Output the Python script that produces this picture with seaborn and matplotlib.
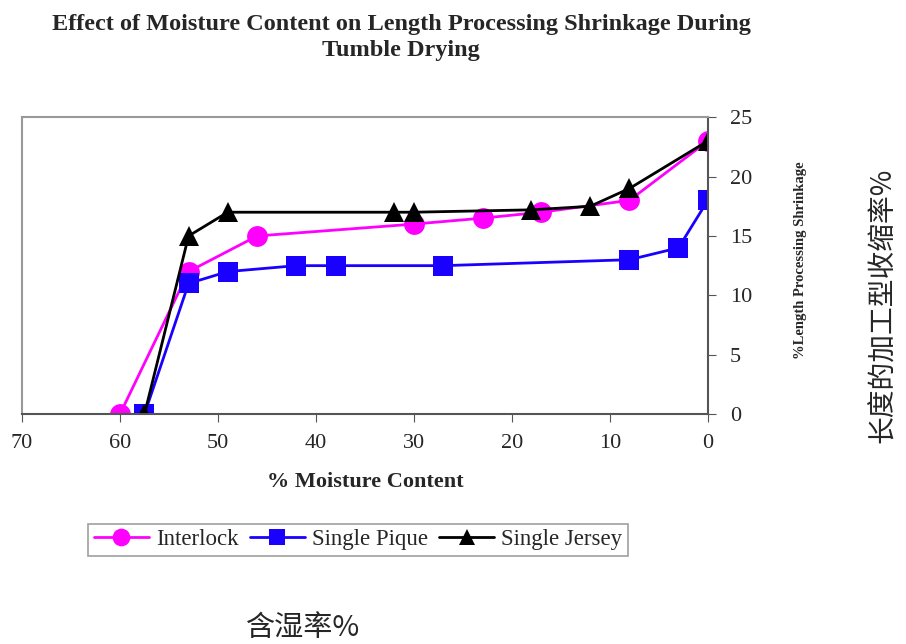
import numpy as np
import pandas as pd
import matplotlib
matplotlib.use("Agg")
import matplotlib.pyplot as plt
import seaborn as sns

# values
interlock_x = [60, 53, 46, 30, 23, 17, 8, 0]
interlock_y = [0, 12, 15, 16, 16.5, 17, 18, 23]
pique_x = [57.5, 53, 49, 42, 38, 27, 8, 3, 0]
pique_y = [0, 11, 12, 12.5, 12.5, 12.5, 13, 14, 18]
jersey_x = [57.5, 53, 49, 32, 30, 18, 12, 8, 0]
jersey_y = [0, 15, 17, 17, 17, 17.2, 17.5, 19, 23]

series = ["Interlock", "Single Pique", "Single Jersey"]
colors = {"Interlock": "#ff00ff", "Single Pique": "#1a00ff", "Single Jersey": "black"}
markers = {"Interlock": "o", "Single Pique": "s", "Single Jersey": "^"}
msizes = {"Interlock": 15, "Single Pique": 14, "Single Jersey": 14}

df = pd.concat([
    pd.DataFrame({"moisture": interlock_x, "shrink": interlock_y, "fabric": "Interlock"}),
    pd.DataFrame({"moisture": pique_x, "shrink": pique_y, "fabric": "Single Pique"}),
    pd.DataFrame({"moisture": jersey_x, "shrink": jersey_y, "fabric": "Single Jersey"}),
])

sns.set_style("white")
plt.rcParams["font.family"] = ["Liberation Serif", "DejaVu Serif"]

fig = plt.figure(figsize=(9.06, 6.44), dpi=100)
ax = fig.add_axes([0.0243, 0.357, 0.757, 0.461])

for name in series:
    sub = df[df["fabric"] == name]
    sns.lineplot(data=sub, x="moisture", y="shrink", ax=ax, color=colors[name],
                 marker=markers[name], markersize=msizes[name], markeredgewidth=0,
                 linewidth=2, label=name, sort=False, estimator=None)

ax.set_xlim(70, 0)
ax.set_ylim(0, 25)
ax.set_xticks(range(70, -1, -10))
ax.set_yticks(range(0, 26, 5))
ax.yaxis.tick_right()
ax.tick_params(axis="both", labelsize=16, direction="out", length=6, color="#555555",
               bottom=True, right=True, left=False)
ax.tick_params(axis="x", pad=8)
ax.tick_params(axis="y", pad=10)
for side in ["top", "left"]:
    ax.spines[side].set_color("#999999")
    ax.spines[side].set_linewidth(1.5)
for side in ["bottom", "right"]:
    ax.spines[side].set_color("#555555")
    ax.spines[side].set_linewidth(1.5)

ax.set_xlabel("% Moisture Content", fontsize=16, fontweight="bold", labelpad=14)
ax.set_ylabel("")
ax.text(1.135, 0.52, "%Length Processing Shrinkage", transform=ax.transAxes, rotation=90,
        fontsize=10.5, fontweight="bold", ha="center", va="center")

leg = ax.legend(loc="upper center", bbox_to_anchor=(0.49, -0.33), ncol=3, fontsize=16.5,
                frameon=True, fancybox=False, edgecolor="#888888", handlelength=2.4,
                handletextpad=0.3, columnspacing=0.5, borderpad=0.25, markerscale=0.85)
leg.get_frame().set_linewidth(1.2)

fig.text(0.443, 0.942, "Effect of Moisture Content on Length Processing Shrinkage During\nTumble Drying",
         ha="center", va="center", fontsize=17.5, fontweight="bold", linespacing=1.3)

cjk = ["Noto Sans CJK SC", "DejaVu Sans"]
fig.text(0.335, 0.025, "含湿率%", ha="center", va="center", fontsize=21, family=cjk)
fig.text(0.975, 0.526, "长度的加工型收缩率%", ha="center", va="center", rotation=90,
         fontsize=20, family=cjk)

fig.savefig("out.png", dpi=100)
